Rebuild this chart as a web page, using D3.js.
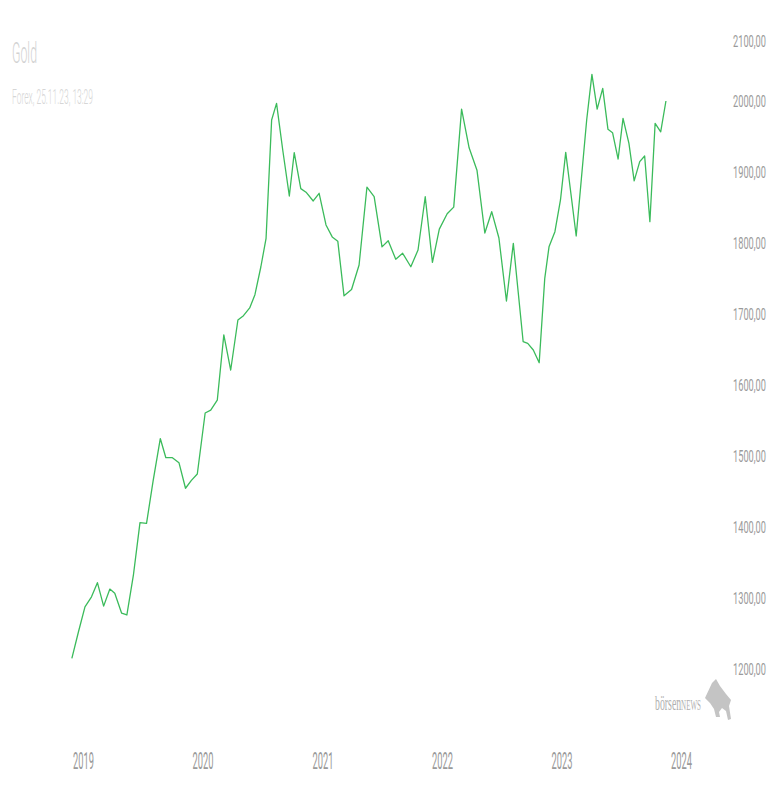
<!DOCTYPE html>
<html>
<head>
<meta charset="utf-8">
<script src="https://cdn.jsdelivr.net/npm/d3@7"></script>
<style>
  html, body { margin: 0; padding: 0; background: #fff; }
</style>
</head>
<body>
<div id="chart"></div>
<script>
// gold price (Forex)
const dates = [
  '2018-11-28', '2018-12-18', '2019-01-07', '2019-01-27', '2019-02-14', '2019-03-05', '2019-03-24', '2019-04-08',
  '2019-04-29', '2019-05-15', '2019-06-04', '2019-06-24', '2019-07-14', '2019-08-03', '2019-08-25', '2019-09-11',
  '2019-10-01', '2019-10-21', '2019-11-10', '2019-11-28', '2019-12-16', '2020-01-09', '2020-01-26', '2020-02-15',
  '2020-03-06', '2020-03-27', '2020-04-18', '2020-05-05', '2020-05-24', '2020-06-09', '2020-06-27', '2020-07-13',
  '2020-07-30', '2020-08-14', '2020-09-02', '2020-09-22', '2020-10-07', '2020-10-27', '2020-11-12', '2020-12-04',
  '2020-12-22', '2021-01-12', '2021-01-31', '2021-02-17', '2021-03-08', '2021-03-31', '2021-04-23', '2021-05-17',
  '2021-06-08', '2021-07-02', '2021-07-21', '2021-08-13', '2021-09-03', '2021-09-28', '2021-10-20', '2021-11-11',
  '2021-12-03', '2021-12-24', '2022-01-17', '2022-02-06', '2022-03-02', '2022-03-25', '2022-04-18', '2022-05-12',
  '2022-06-02', '2022-06-24', '2022-07-17', '2022-08-07', '2022-08-22', '2022-09-06', '2022-09-20', '2022-10-07',
  '2022-10-25', '2022-11-11', '2022-11-24', '2022-12-12', '2022-12-29', '2023-01-14', '2023-01-30', '2023-02-15',
  '2023-03-03', '2023-03-19', '2023-04-04', '2023-04-20', '2023-05-07', '2023-05-23', '2023-06-06', '2023-06-23',
  '2023-07-08', '2023-07-26', '2023-08-11', '2023-08-28', '2023-09-12', '2023-09-28', '2023-10-14', '2023-10-31',
  '2023-11-16'
];
const prices = [
  1216.5, 1253.5, 1289, 1303, 1323, 1290, 1314, 1308,
  1280, 1277.5, 1334, 1407.5, 1406.5, 1466, 1526, 1499,
  1499, 1492, 1456, 1467, 1476, 1562, 1566, 1580,
  1672, 1622.5, 1693, 1699, 1710, 1728.6, 1767.6, 1808,
  1974.6, 1998, 1932, 1867.6, 1928.6, 1878, 1873, 1860.6,
  1871.4, 1826.8, 1810, 1804, 1727, 1736, 1770.4, 1880,
  1866.6, 1796, 1804.6, 1778.5, 1787, 1768, 1791.5, 1866.6,
  1774, 1821, 1842.5, 1852, 1990, 1935.5, 1904, 1815.5,
  1845.5, 1808.5, 1719.7, 1801, 1731.7, 1662.4, 1660, 1650.7,
  1632.8, 1751.7, 1796, 1817.3, 1862, 1929, 1870.4, 1811.3,
  1893, 1974.6, 2039, 1990, 2019.3, 1961.5, 1956.8, 1919.7,
  1977, 1941.8, 1889, 1916, 1924, 1831.4, 1970, 1958,
  2001.4
];
const yTicks = [1200, 1300, 1400, 1500, 1600, 1700, 1800, 1900, 2000, 2100];
const xTicks = ['2019-01-01', '2020-01-01', '2021-01-01', '2022-01-01', '2023-01-01', '2024-01-01'];
const title = 'Gold';
const subtitle = 'Forex, 25.11.23, 13:29';

const width = 780;
const height = 800;
const sans = 'Roboto, "Open Sans", sans-serif';
const parse = d3.utcParse('%Y-%m-%d');
const data = dates.map((d, i) => ({date: parse(d), value: prices[i]}));

const svg = d3.select('#chart').append('svg')
  .attr('width', width)
  .attr('height', height);

const x = d3.scaleUtc()
  .domain([parse('2019-01-01'), parse('2024-01-01')])
  .range([83, 681]);
const y = d3.scaleLinear()
  .domain([1200, 2000])
  .range([670, 102]);

const de = d3.formatLocale({decimal: ',', thousands: '.', grouping: [3], currency: ['', ' €']});

// the original chart was squeezed sideways, so texts are narrowed to the widths seen there
function squeeze(sel, w) {
  sel.each(function() {
    const k = w / this.getComputedTextLength();
    d3.select(this).attr('transform', 'scale(' + k + ',1)');
  });
}

// title block
const head = svg.append('g').attr('transform', 'translate(12,0)');
head.append('text')
  .attr('y', 63)
  .style('font-family', sans)
  .attr('font-size', 30).attr('font-weight', 300)
  .attr('fill', '#d2d2d2')
  .text(title)
  .call(squeeze, 25);
head.append('text')
  .attr('y', 104)
  .style('font-family', sans)
  .attr('font-size', 20).attr('font-weight', 300)
  .attr('fill', '#d6d6d6')
  .text(subtitle)
  .call(squeeze, 81);

// y axis on the right, labels right aligned
const yAxis = d3.axisLeft(y)
  .tickValues(yTicks)
  .tickSize(0)
  .tickPadding(0)
  .tickFormat(de.format('.2f'));
const gy = svg.append('g')
  .attr('class', 'axis y')
  .attr('transform', 'translate(766,0)')
  .call(yAxis);
gy.select('.domain').remove();
gy.selectAll('.tick')
  .attr('transform', d => 'translate(0,' + Math.max(y(d), 42) + ')'); // top label stays inside
gy.selectAll('text')
  .attr('fill', '#9a9a9a')
  .attr('font-size', 17)
  .style('font-family', sans)
  .call(squeeze, 33);

// x axis
const xAxis = d3.axisBottom(x)
  .tickValues(xTicks.map(parse))
  .tickSize(0)
  .tickPadding(0)
  .tickFormat(d3.utcFormat('%Y'));
const gx = svg.append('g')
  .attr('class', 'axis x')
  .attr('transform', 'translate(0,752)')
  .call(xAxis);
gx.select('.domain').remove();
gx.selectAll('text')
  .attr('fill', '#9a9a9a')
  .attr('font-size', 24)
  .style('font-family', sans)
  .call(squeeze, 21);

// price line
const line = d3.line()
  .x(d => x(d.date))
  .y(d => y(d.value));
svg.append('path')
  .datum(data)
  .attr('fill', 'none')
  .attr('stroke', '#3bbb5b')
  .attr('stroke-width', 1.3)
  .attr('stroke-linejoin', 'round')
  .attr('d', line);

// watermark
const wm = svg.append('g').attr('class', 'watermark');
const wmText = wm.append('g').attr('transform', 'translate(655,710)')
  .append('text')
  .style('font-family', '"Liberation Serif", "DejaVu Serif", serif')
  .attr('fill', '#b0b0b0')
  .attr('font-size', 21);
wmText.append('tspan').text('börsen');
wmText.append('tspan').attr('font-size', 15).text('NEWS');
wmText.call(squeeze, 46);
wm.append('path')
  .attr('fill', '#c4c4c4')
  .attr('d', 'M705,698 L712,683 L716,679 L720,686 L726,694 L731,700 L729,706 L731,719 L728,720 L726,711 L722,708 L719,712 L720,717 L716,717 L714,709 L710,703 Z');
</script>
</body>
</html>
